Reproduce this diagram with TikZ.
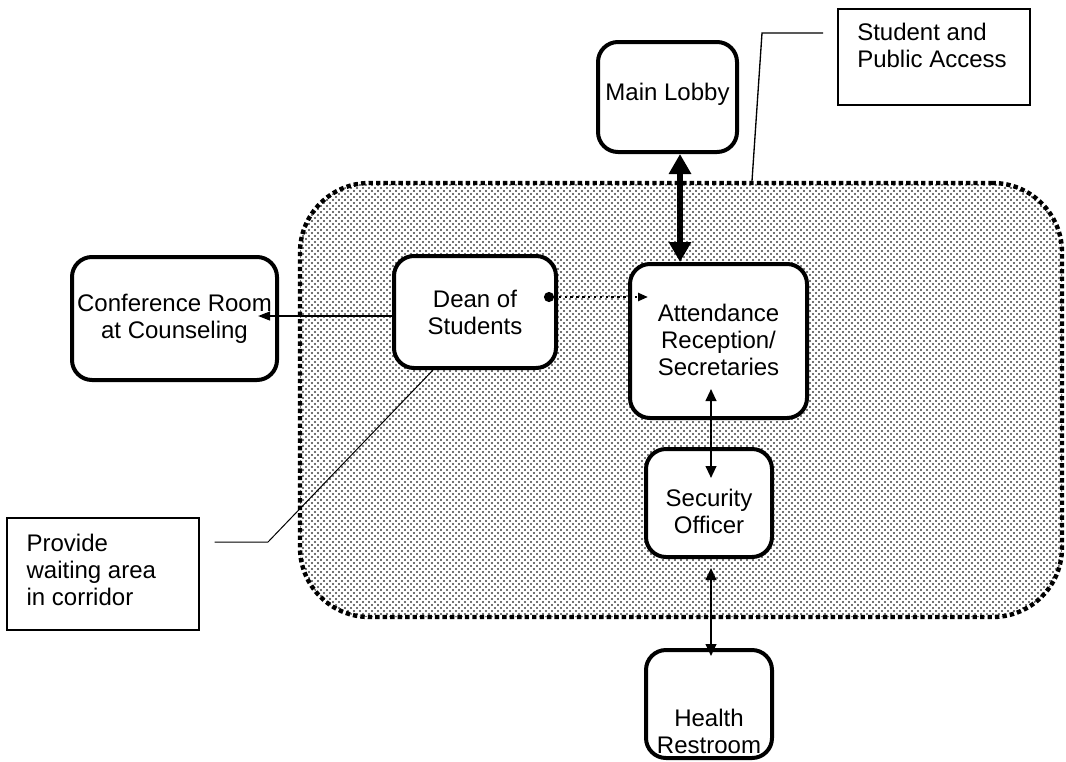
\documentclass[tikz,border=0pt]{standalone}
\usepackage{fontspec}
\setmainfont{Liberation Sans}
\usetikzlibrary{arrows.meta,calc,patterns}

% staggered dot screen for the shared area
\pgfdeclarepatternformonly{zonedots}{\pgfqpoint{-1pt}{-1pt}}{\pgfqpoint{3.5pt}{3.5pt}}{\pgfqpoint{4.5pt}{4.5pt}}{%
  \pgfpathcircle{\pgfqpoint{0pt}{0pt}}{0.8pt}%
  \pgfpathcircle{\pgfqpoint{2.25pt}{2.25pt}}{0.8pt}%
  \pgfusepath{fill}}

\newcommand\roomfont{\fontsize{18}{20.25}\selectfont}

\begin{document}
\begin{tikzpicture}[x=0.75pt,y=-0.75pt,
  zone/.style={draw, line width=3.3pt, dash pattern=on 3.3pt off 2.3pt,
    rounded corners=52pt, pattern=zonedots, pattern color=black!75, inner sep=0pt},
  room/.style={draw, line width=3pt, rounded corners=15pt, fill=white, inner sep=0pt},
  roomlabel/.style={align=center, font=\roomfont, inner sep=0pt},
  notelabel/.style={align=left, font=\roomfont, inner sep=0pt, anchor=north west},
  note/.style={draw, fill=white, inner sep=0pt},
  link/.style={line width=1.5pt, -{Triangle[length=9pt,width=6.5pt]}},
  twoway/.style={line width=1.5pt, {Triangle[length=9pt,width=8pt]}-{Triangle[length=9pt,width=8pt]}},
  mainway/.style={line width=5pt, {Triangle[length=15pt,width=16pt]}-{Triangle[length=15pt,width=16pt]}},
  dotlink/.style={line width=1.8pt, dash pattern=on 1.8pt off 2.6pt,
    {Circle[length=7.5pt]}-{Triangle[length=7.5pt,width=6pt]}},
  callout/.style={line width=1pt},
  thincallout/.style={line width=0.75pt}]
\useasboundingbox (0,0) rectangle (1066,761);

% shared student and public access area
\node[zone, minimum width=571.5pt, minimum height=325.5pt] (zone) at (681,400) {};

% rooms
\node[room, minimum width=104.25pt, minimum height=82.5pt,
  label={[roomlabel, yshift=2pt]center:Main Lobby}] (lobby) at (667.5,97) {};
\node[room, minimum width=153.75pt, minimum height=92.25pt,
  label={[roomlabel]center:Conference Room\\at Counseling}] (conf) at (174.5,318.5) {};
\node[room, minimum width=121.5pt, minimum height=84pt,
  label={[roomlabel, yshift=-0.5pt]center:Dean of\\Students}] (dean) at (475,312) {};
\node[room, minimum width=132.75pt, minimum height=115.5pt,
  label={[roomlabel, yshift=1pt]center:Attendance\\Reception/\\Secretaries}] (att) at (718.5,341) {};
\node[room, minimum width=94.5pt, minimum height=81pt,
  label={[roomlabel, yshift=-6.4pt]center:Security\\Officer}] (sec) at (709,503) {};
\node[room, minimum width=94.5pt, minimum height=81pt,
  label={[roomlabel, yshift=-20.25pt]center:Health\\Restroom}] (health) at (709,704) {};

% notes
\node[note, line width=1.5pt, minimum width=144pt, minimum height=72pt,
  label={[notelabel, xshift=15pt, yshift=-11.5pt]north west:Student and\\Public Access}] (access) at (934,57) {};
\node[note, line width=1pt, minimum width=144pt, minimum height=84pt,
  label={[notelabel, xshift=15pt, yshift=-12pt]north west:Provide\\waiting area\\in corridor}] (wait) at (103,574) {};

% connectors
\coordinate (mx) at (680,0);
\draw[mainway] (lobby.south -| mx) -- (att.north -| mx);

\coordinate (confhit) at (258,316);
\draw[link] (dean.west |- confhit) -- (confhit);

\coordinate (dy) at (0,297);
\draw[dotlink] ($(dean.east |- dy)+(-14,0)$) -- ($(att.west |- dy)+(20,0)$);

\coordinate (vx) at (711,0);
\draw[twoway] ($(att.south -| vx)+(0,-31)$) -- ($(sec.north -| vx)+(0,31)$);
\draw[twoway] ($(sec.south -| vx)+(0,9)$) -- ($(health.north -| vx)+(0,8)$);

% note leaders
\coordinate (abend) at (762,33);
\coordinate (afoot) at (752,0);
\draw[callout] ($(access.west |- abend)+(-14,0)$) -- (abend) -- (zone.north -| afoot);

\coordinate (pbend) at (268,542);
\coordinate (pfoot) at (433,0);
\draw[thincallout] ($(wait.east |- pbend)+(15,0)$) -- (pbend) -- (dean.south -| pfoot);
\end{tikzpicture}
\end{document}
